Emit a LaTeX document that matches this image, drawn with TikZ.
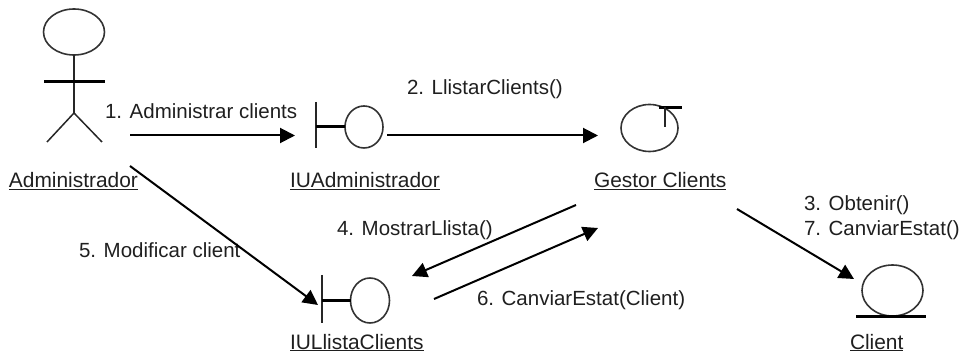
\documentclass[tikz,border=0pt]{standalone}
\usepackage{fontspec}
\setmainfont{Liberation Sans}
\usetikzlibrary{arrows.meta,shapes.geometric}
\tikzset{
  lbl/.style={anchor=base west,inner sep=0pt,outer sep=0pt,font=\fontsize{20.5}{24}\selectfont,text=black!88},
  namelbl/.style={lbl,font=\fontsize{20.9}{24}\selectfont},
  icon/.style={draw=black!80,line width=1.6pt,inner sep=0pt,outer sep=0pt,ellipse},
  bar/.style={draw=black!85,line width=1.5pt},
  thickbar/.style={draw=black,line width=3pt},
  msg/.style={draw=black,line width=2pt,-{Triangle[length=15pt,width=15pt]}}
}
\begin{document}
\begin{tikzpicture}[x=1pt,y=-1pt]
\useasboundingbox (0,0) rectangle (962,358);
% actor
\node[icon,minimum width=61pt,minimum height=46pt] (head) at (74,32) {};
\coordinate (hip) at (74,113);
\coordinate (armL) at (44,82);
\coordinate (armR) at (105,82);
\coordinate (footL) at (47,142);
\coordinate (footR) at (102,142);
\draw[bar] (head.south) -- (hip);
\draw[thickbar] (armL) -- (armR);
\draw[bar] (footL) -- (hip) -- (footR);
% boundary 1
\node[icon,minimum width=38pt,minimum height=42pt] (iua) at (364,127) {};
\coordinate (iuaB) at (316,127);
\draw[bar] (316,102) -- (316,148);
\draw[thickbar] (iuaB) -- (iua.west);
% control
\node[icon,minimum width=57pt,minimum height=47pt] (gestor) at (649.5,128) {};
\coordinate (tL) at (659,107.5);
\coordinate (tR) at (682,107.5);
\coordinate (tM) at (665,107.5);
\coordinate (tS) at (665,127);
\draw[thickbar] (tL) -- (tR);
\draw[bar] (tM) -- (tS);
% boundary 2
\node[icon,minimum width=39pt,minimum height=45pt] (iul) at (370,300.5) {};
\coordinate (iulB) at (322,300.5);
\draw[bar] (322,275) -- (322,323);
\draw[thickbar] (iulB) -- (iul.west);
% entity
\node[icon,minimum width=61pt,minimum height=51pt] (client) at (892.5,290.5) {};
\coordinate (eL) at (856,316.5);
\coordinate (eR) at (926,316.5);
\draw[thickbar] (eL) -- (eR);
% labels
\node[namelbl] (lAdm) at (9,188) {\underline{Administrador}};
\node[namelbl] (lIUA) at (290,188) {\underline{IUAdministrador}};
\node[namelbl] (lGes) at (594,188) {\underline{Gestor Clients}};
\node[namelbl] (lIUL) at (290,349) {\underline{IULlistaClients}};
\node[namelbl] (lCli) at (850,349) {\underline{Client}};
\node[lbl] (m1) at (105,119) {1. Administrar clients};
\node[lbl] (m2) at (407,95) {2. LlistarClients()};
\node[lbl] (m3) at (804,211) {3. Obtenir()};
\node[lbl] (m7) at (804,236) {7. CanviarEstat()};
\node[lbl] (m4) at (337,236) {4. MostrarLlista()};
\node[lbl] (m5) at (79,258) {5. Modificar client};
\node[lbl] (m6) at (477,306) {6. CanviarEstat(Client)};
% connector ends
\coordinate (a1s) at (130,135.5);
\coordinate (a1e) at (295,135.5);
\coordinate (a2s) at (387,135.5);
\coordinate (a2e) at (598,135.5);
\coordinate (a5s) at (130,166);
\coordinate (a5e) at (318,305);
\coordinate (a4s) at (576,205);
\coordinate (a4e) at (412,276);
\coordinate (a6s) at (434,299);
\coordinate (a6e) at (598,228);
\coordinate (a3s) at (737,209);
\coordinate (a3e) at (854,279);
\draw[msg] (a1s) -- (a1e);
\draw[msg] (a2s) -- (a2e);
\draw[msg] (a5s) -- (a5e);
\draw[msg] (a4s) -- (a4e);
\draw[msg] (a6s) -- (a6e);
\draw[msg] (a3s) -- (a3e);
\end{tikzpicture}
\end{document}
